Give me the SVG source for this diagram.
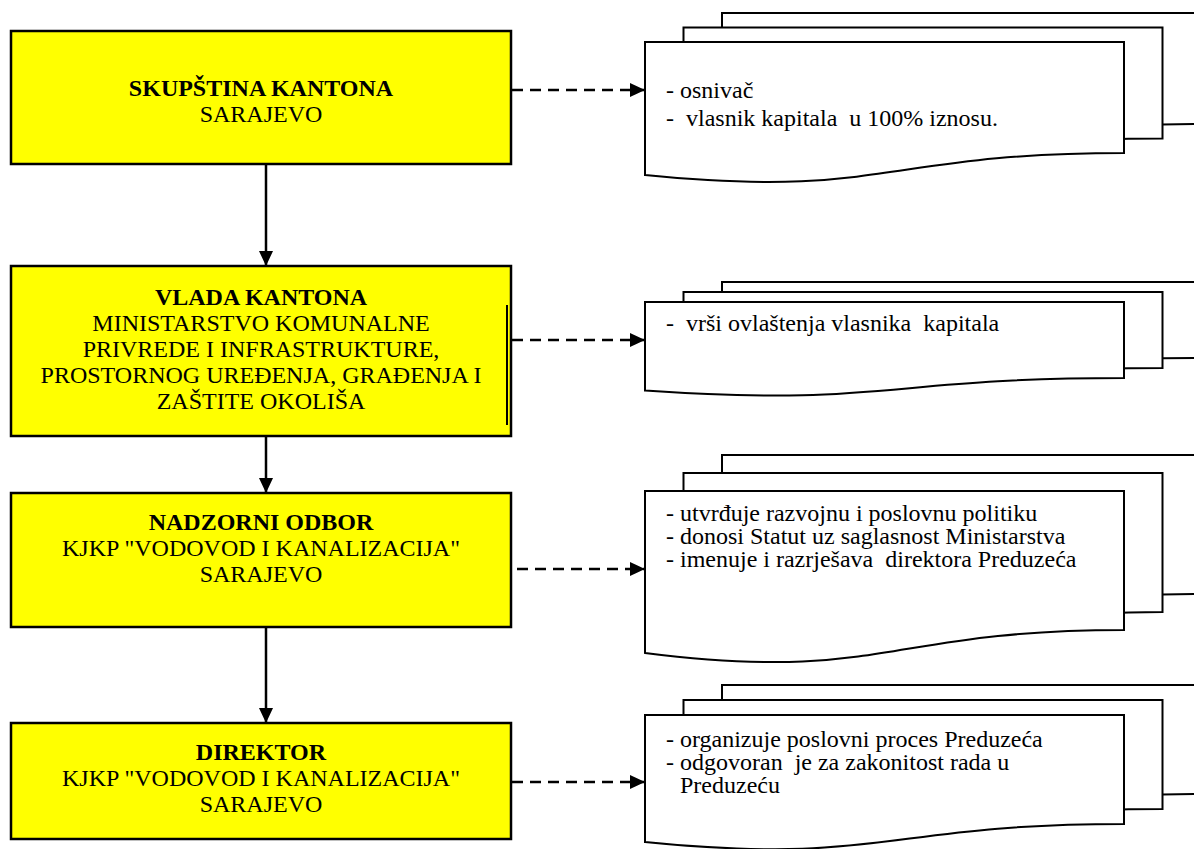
<svg xmlns="http://www.w3.org/2000/svg" width="1194" height="849" viewBox="0 0 1194 849">
<style>
.box{fill:#FFFF00;stroke:#000;stroke-width:2.5}
.doc{fill:#fff;stroke:#000;stroke-width:2}
.t{font-family:"Liberation Serif","Times New Roman",serif;font-size:24px;fill:#000}
.c{text-anchor:middle}
.b{font-weight:bold}
.solid{stroke:#000;stroke-width:2.5;fill:none}
.dash{stroke:#000;stroke-width:2.5;fill:none;stroke-dasharray:11 7}
</style>
<defs>
<marker id="ah" viewBox="0 0 15 14" refX="15" refY="7" markerWidth="15" markerHeight="14" markerUnits="userSpaceOnUse" orient="auto">
<path d="M0,0 L15,7 L0,14 Z" fill="#000"/>
</marker>
</defs>
<rect width="1194" height="849" fill="#fff"/>

<g id="connectors">
<line class="solid" x1="266" y1="164" x2="266" y2="266" marker-end="url(#ah)"/>
<line class="solid" x1="266" y1="436" x2="266" y2="493" marker-end="url(#ah)"/>
<line class="solid" x1="266" y1="627" x2="266" y2="723" marker-end="url(#ah)"/>
<line class="dash" x1="512" y1="90" x2="645" y2="90" marker-end="url(#ah)"/>
<line class="dash" x1="512" y1="340" x2="645" y2="340" marker-end="url(#ah)"/>
<line class="dash" x1="517" y1="569" x2="645" y2="569" marker-end="url(#ah)"/>
<line class="dash" x1="512" y1="782" x2="645" y2="782" marker-end="url(#ah)"/>
</g>

<g id="skupstina">
<rect class="box" x="11" y="31" width="500" height="133"/>
<text class="t c b" x="261" y="96">SKUPŠTINA KANTONA</text>
<text class="t c" x="261" y="122">SARAJEVO</text>
</g>

<g id="vlada">
<rect class="box" x="11" y="266" width="500" height="170"/>
<line x1="507" y1="305" x2="507" y2="425" stroke="#000" stroke-width="2"/>
<text class="t c b" x="261" y="305">VLADA KANTONA</text>
<text class="t c" x="261" y="331">MINISTARSTVO KOMUNALNE</text>
<text class="t c" x="261" y="357">PRIVREDE I INFRASTRUKTURE,</text>
<text class="t c" x="261" y="383">PROSTORNOG UREĐENJA, GRAĐENJA I</text>
<text class="t c" x="261" y="409">ZAŠTITE OKOLIŠA</text>
</g>

<g id="nadzorni">
<rect class="box" x="11" y="493" width="500" height="134"/>
<text class="t c b" x="261" y="530">NADZORNI ODBOR</text>
<text class="t c" x="261" y="556">KJKP "VODOVOD I KANALIZACIJA"</text>
<text class="t c" x="261" y="582">SARAJEVO</text>
</g>

<g id="direktor">
<rect class="box" x="11" y="723" width="500" height="116"/>
<text class="t c b" x="261" y="760">DIREKTOR</text>
<text class="t c" x="261" y="786">KJKP "VODOVOD I KANALIZACIJA"</text>
<text class="t c" x="261" y="812">SARAJEVO</text>
</g>

<g id="doc1">
<path class="doc" d="M722,13 H1201 V124 C961.5,124 961.5,170 722,146 Z"/>
<path class="doc" d="M683.5,27.5 H1162.5 V138.5 C923,138.5 923,184.5 683.5,160.5 Z"/>
<path class="doc" d="M645,42 H1124 V153 C884.5,153 884.5,199 645,175 Z"/>
<text class="t" x="666" y="98">- osnivač</text>
<text class="t" x="666" y="126" xml:space="preserve">-  vlasnik kapitala  u 100% iznosu.</text>
</g>

<g id="doc2">
<path class="doc" d="M722,282 H1201 V358 C961.5,358 961.5,387 722,370.5 Z"/>
<path class="doc" d="M683.5,292 H1162.5 V368 C923,368 923,397 683.5,380.5 Z"/>
<path class="doc" d="M645,302 H1124 V378 C884.5,378 884.5,407 645,390.5 Z"/>
<text class="t" x="666" y="331" xml:space="preserve">-  vrši ovlaštenja vlasnika  kapitala</text>
</g>

<g id="doc3">
<path class="doc" d="M722,455 H1201 V594 C961.5,594 961.5,647 722,616.9 Z"/>
<path class="doc" d="M683.5,473 H1162.5 V612 C923,612 923,665 683.5,634.9 Z"/>
<path class="doc" d="M645,491 H1124 V630 C884.5,630 884.5,683 645,652.9 Z"/>
<text class="t" x="666" y="521">- utvrđuje razvojnu i poslovnu politiku</text>
<text class="t" x="666" y="544">- donosi Statut uz saglasnost Ministarstva</text>
<text class="t" x="666" y="567" xml:space="preserve">- imenuje i razrješava  direktora Preduzeća</text>
</g>

<g id="doc4">
<path class="doc" d="M722,685 H1201 V794 C961.5,794 961.5,835.6 722,812 Z"/>
<path class="doc" d="M683.5,700 H1162.5 V809 C923,809 923,850.6 683.5,827 Z"/>
<path class="doc" d="M645,715 H1124 V824 C884.5,824 884.5,865.6 645,842 Z"/>
<text class="t" x="666" y="747">- organizuje poslovni proces Preduzeća</text>
<text class="t" x="666" y="770" xml:space="preserve">- odgovoran  je za zakonitost rada u</text>
<text class="t" x="680" y="793">Preduzeću</text>
</g>
</svg>
